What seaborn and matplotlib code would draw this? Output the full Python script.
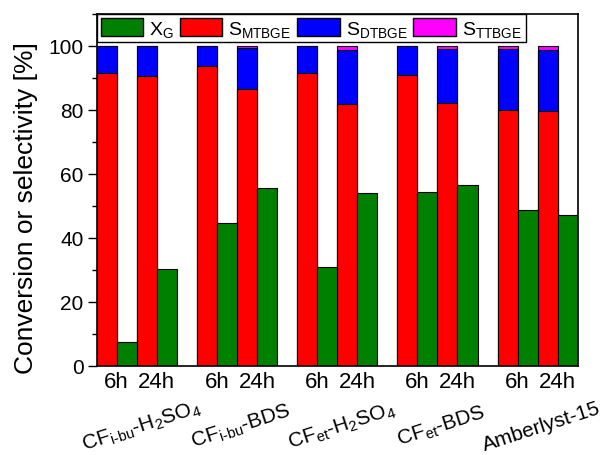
import pandas as pd
import seaborn as sns
import matplotlib.pyplot as plt
import matplotlib.transforms as mtransforms
from matplotlib.patches import Patch
from matplotlib.ticker import MultipleLocator

# data
catalysts = [r"CF$_{\text{i-bu}}$-H$_2$SO$_4$", r"CF$_{\text{i-bu}}$-BDS",
             r"CF$_{\text{et}}$-H$_2$SO$_4$", r"CF$_{\text{et}}$-BDS", "Amberlyst-15"]
times = ["6h", "24h"]

x_g = [7.5, 30.4, 44.5, 55.6, 30.8, 54.0, 54.4, 56.5, 48.7, 47.0]
s_mtbge = [91.7, 90.6, 93.6, 86.4, 91.6, 82.0, 90.9, 82.1, 80.1, 79.6]
s_dtbge = [8.3, 9.4, 6.4, 12.9, 8.4, 16.8, 9.1, 17.1, 18.8, 19.2]
s_ttbge = [0.0, 0.0, 0.0, 0.7, 0.0, 1.2, 0.0, 0.8, 1.1, 1.2]

sns.set_style("ticks")
plt.rcParams["font.family"] = ["Liberation Sans", "DejaVu Sans"]
plt.rcParams["mathtext.fontset"] = "custom"
plt.rcParams["mathtext.rm"] = "Liberation Sans"
plt.rcParams["mathtext.it"] = "Liberation Sans:italic"
plt.rcParams["mathtext.bf"] = "Liberation Sans:bold"
plt.rcParams["mathtext.default"] = "regular"
for key in ["text.color", "axes.labelcolor", "xtick.color", "ytick.color"]:
    plt.rcParams[key] = "black"

# one row per catalyst / time, with separate slots for the stack and X_G bar
rows = []
order = []
for g, cat in enumerate(catalysts):
    for t, tm in enumerate(times):
        i = g * len(times) + t
        rows.append({
            "catalyst": cat, "time": tm,
            "s_slot": f"{g}_{tm}_S", "x_slot": f"{g}_{tm}_X",
            "x_g": x_g[i],
            "mtbge": s_mtbge[i],
            "mtbge_dtbge": s_mtbge[i] + s_dtbge[i],
            "total": s_mtbge[i] + s_dtbge[i] + s_ttbge[i],
        })
        order += [f"{g}_{tm}_S", f"{g}_{tm}_X"]
    if g < len(catalysts) - 1:
        order.append(f"{g}_gap")
df = pd.DataFrame(rows)

fig = plt.figure(figsize=(6.14, 4.56), dpi=100)
ax = fig.add_axes([0.1575, 0.1958, 0.7834, 0.7713])

common = dict(order=order, width=1.0, saturation=1, edgecolor="black",
              linewidth=0.8, errorbar=None, ax=ax)
sns.barplot(data=df, x="s_slot", y="total", color="#ff00ff", **common)
sns.barplot(data=df, x="s_slot", y="mtbge_dtbge", color="#0000ff", **common)
sns.barplot(data=df, x="s_slot", y="mtbge", color="#ff0000", **common)
sns.barplot(data=df, x="x_slot", y="x_g", color="#008000", **common)

ax.set_xlim(-0.5, len(order) - 0.5)
ax.set_ylim(0, 110)
ax.set_yticks(range(0, 101, 20))
ax.yaxis.set_minor_locator(MultipleLocator(10))
ax.tick_params(axis="y", which="major", length=6.5, width=1, labelsize=15, pad=3)
ax.tick_params(axis="y", which="minor", length=3.5, width=1)

# time labels under each pair of bars
pos = [order.index(s) + 0.5 for s in df["s_slot"]]
ax.set_xticks(pos)
ax.set_xticklabels(df["time"], fontsize=16)
ax.tick_params(axis="x", length=0, pad=4)
ax.set_xlabel("")
ax.set_ylabel("Conversion or selectivity [%]", fontsize=19)
ax.yaxis.set_label_coords(-0.122, 0.45)

# catalyst names, rotated, under each group
trans = mtransforms.blended_transform_factory(ax.transData, ax.transAxes)
for g, cat in enumerate(catalysts):
    first = order.index(f"{g}_{times[0]}_S")
    last = order.index(f"{g}_{times[-1]}_X")
    xc = (first + last) / 2 + 0.3
    ax.text(xc, -0.185, cat, transform=trans, rotation=18, rotation_mode="anchor",
            ha="center", va="baseline", fontsize=15)

for sp in ax.spines.values():
    sp.set_visible(True)
    sp.set_color("black")
    sp.set_linewidth(1.2)

handles = [Patch(facecolor="#008000", edgecolor="black", label="X$_G$"),
           Patch(facecolor="#ff0000", edgecolor="black", label="S$_{MTBGE}$"),
           Patch(facecolor="#0000ff", edgecolor="black", label="S$_{DTBGE}$"),
           Patch(facecolor="#ff00ff", edgecolor="black", label="S$_{TTBGE}$")]
leg = ax.legend(handles=handles, ncol=4, loc="upper left", bbox_to_anchor=(0, 1),
                borderaxespad=0, fontsize=14, handlelength=2.2, handleheight=1.05,
                handletextpad=0.3, columnspacing=0.3, borderpad=0.2,
                fancybox=False, framealpha=1, edgecolor="black")
leg.get_frame().set_linewidth(1.0)

fig.savefig("out.png", dpi=100)
